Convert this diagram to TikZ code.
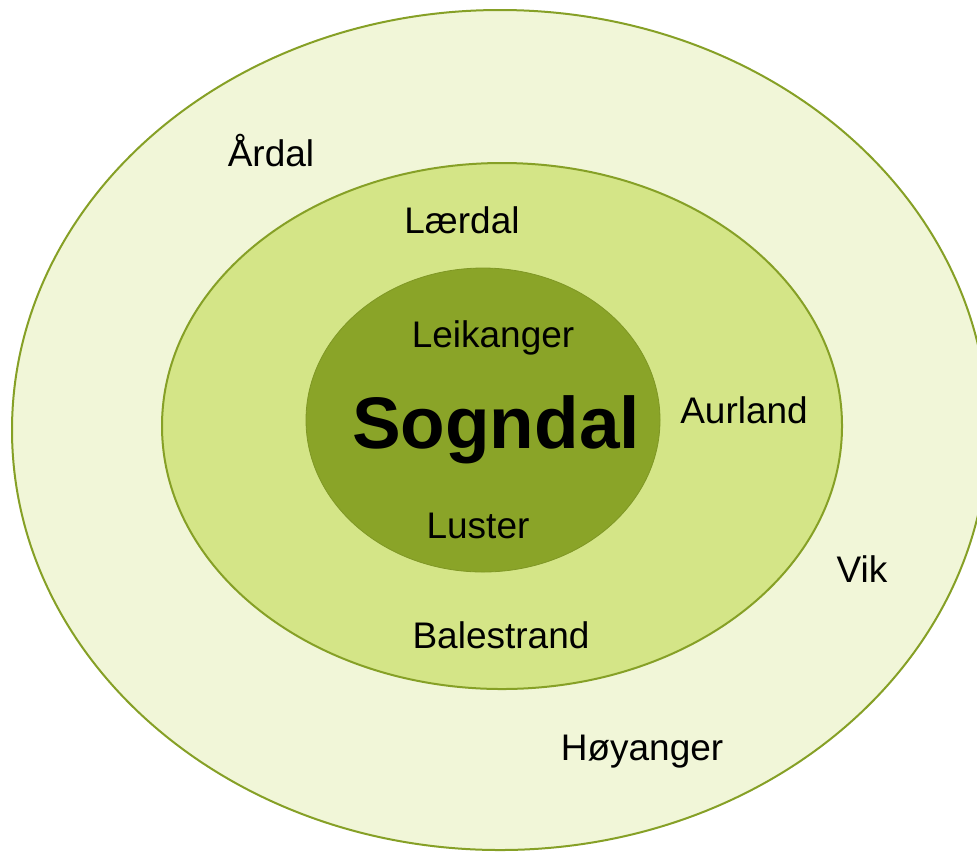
\documentclass[tikz,border=0pt]{standalone}
\usepackage{fontspec}
\setmainfont{Liberation Sans}
\usepackage{tikz}
\definecolor{ringOuter}{RGB}{241,246,216}
\definecolor{ringMiddle}{RGB}{212,229,135}
\definecolor{ringInner}{RGB}{138,164,40}
\definecolor{ringLine}{RGB}{134,160,38}
\tikzset{
  x=0.5pt,y=-0.5pt,
  ring/.style={draw=ringLine,line width=1pt},
  place/.style={anchor=base,inner sep=0,font=\fontsize{18.5}{22}\selectfont},
  centre/.style={anchor=base,inner sep=0,font=\fontsize{36.5}{42}\selectfont\bfseries},
}
\begin{document}
\begin{tikzpicture}
  \useasboundingbox (0,0) rectangle (977,853);
  \clip (0,0) rectangle (977,853);
  % rings
  \path [ring,fill=ringOuter] (500,430) ellipse [x radius=244pt,y radius=210pt];
  \path [ring,fill=ringMiddle] (502,426) ellipse [x radius=170pt,y radius=131.5pt];
  \path [draw=ringInner!92!black,line width=0.4pt,fill=ringInner] (483,420) ellipse [x radius=88.5pt,y radius=76pt];
  % names
  \node (ardal) [place] at (271,166) {Årdal};
  \node (laerdal) [place] at (462,233) {Lærdal};
  \node (leikanger) [place] at (493,347) {Leikanger};
  \node (sogndal) [centre] at (496,448) {Sogndal};
  \node (luster) [place] at (478,538) {Luster};
  \node (aurland) [place] at (744,423) {Aurland};
  \node (vik) [place] at (862,582) {Vik};
  \node (balestrand) [place] at (501,648) {Balestrand};
  \node (hoyanger) [place] at (642,760) {Høyanger};
\end{tikzpicture}
\end{document}
